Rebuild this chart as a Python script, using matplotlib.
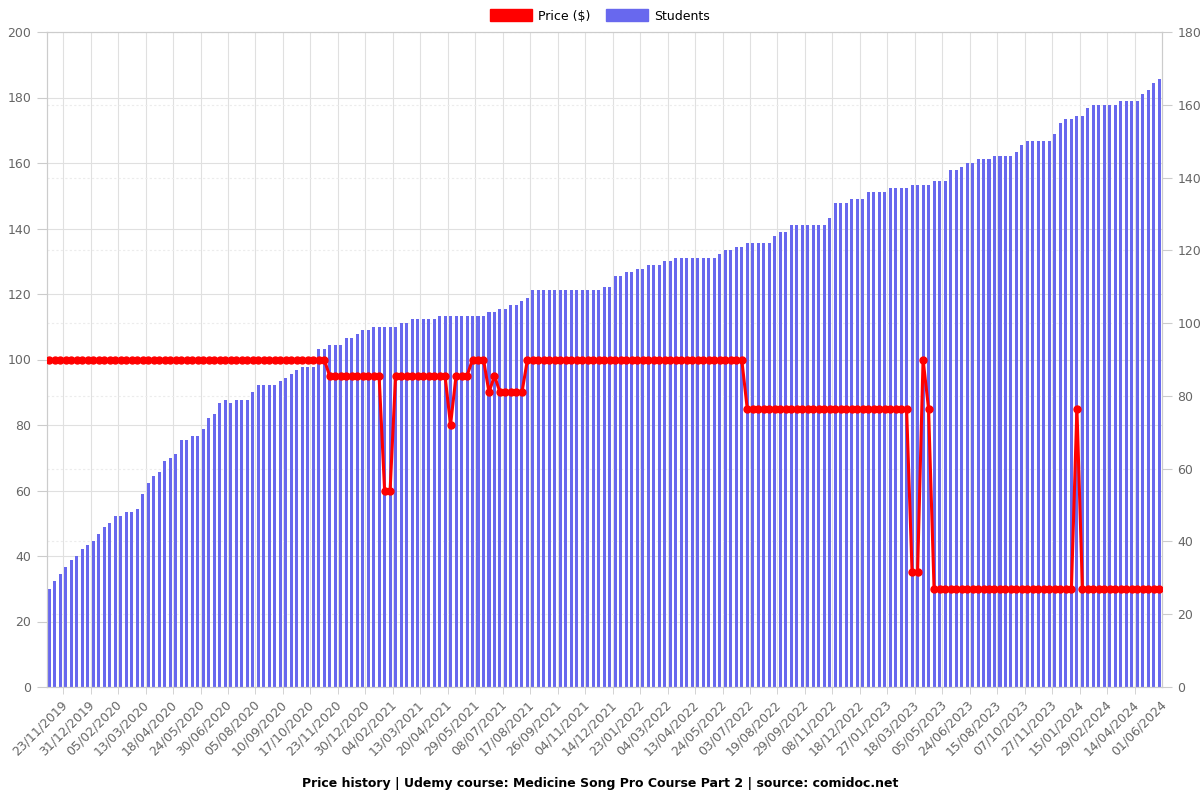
import matplotlib
matplotlib.use('Agg')
import matplotlib.pyplot as plt
import numpy as np
from matplotlib.patches import Patch

# Students per snapshot (right axis)
students = [
    27, 29, 31, 33, 35, 36, 38, 39, 40, 42, 44, 45, 47, 47, 48, 48, 49, 53, 56,
    58, 59, 62, 63, 64, 68, 68, 69, 69, 71, 74, 75, 78, 79, 78, 79, 79, 79, 81, 83, 83, 83, 83, 84,
    85, 86, 87,
    88, 88, 88, 93, 93, 94, 94, 94, 96, 96, 97,
    98, 98, 99, 99, 99, 99, 99, 100, 100, 101, 101, 101, 101, 101, 102,
    102, 102, 102, 102, 102, 102, 102, 102, 103, 103, 104, 104, 105, 105, 106, 107,
    109, 109, 109, 109, 109, 109, 109, 109, 109, 109, 109, 109, 109, 110, 110, 113, 113,
    114, 114, 115, 115, 116, 116, 116, 117, 117, 118, 118, 118, 118, 118, 118, 118, 118,
    119, 120, 120, 121, 121, 122, 122, 122, 122, 122, 124, 125, 125,
    127, 127, 127, 127, 127, 127, 127, 129, 133, 133, 133, 134, 134, 134, 136, 136, 136, 136,
    137, 137, 137, 137, 138, 138, 138, 138, 139, 139, 139, 142, 142, 143, 144, 144, 145, 145,
    145, 146, 146, 146, 146, 147,
    149, 150, 150, 150, 150, 150, 152, 155, 156, 156, 157, 157, 159, 160, 160, 160, 160, 160,
    161, 161, 161, 161, 163, 164, 166, 167,
]

# Price in $ (left axis)
price = [
    100, 100, 100, 100, 100, 100, 100, 100, 100, 100, 100, 100, 100, 100, 100, 100, 100,
    100, 100, 100, 100, 100, 100, 100, 100, 100, 100, 100, 100, 100, 100, 100, 100, 100,
    100, 100, 100, 100, 100, 100, 100, 100, 100, 100, 100, 100, 100, 100, 100, 100, 100,
    95, 95, 95, 95, 95, 95, 95, 95, 95, 95, 60, 60,
    95, 95, 95, 95, 95, 95, 95, 95, 95, 95, 80, 95, 95, 95, 100, 100, 100,
    90, 95, 90, 90, 90, 90, 90,
    100, 100, 100, 100, 100, 100, 100, 100, 100, 100, 100, 100, 100, 100, 100, 100, 100, 100, 100, 100,
    100, 100, 100, 100, 100, 100, 100, 100, 100, 100, 100, 100, 100, 100, 100, 100, 100, 100, 100, 100,
    85, 85, 85, 85, 85, 85, 85, 85, 85, 85, 85, 85, 85, 85, 85,
    85, 85, 85, 85, 85, 85, 85, 85, 85, 85, 85, 85, 85, 85, 85,
    35, 35, 100, 85,
    30, 30, 30, 30, 30, 30, 30, 30, 30, 30, 30, 30, 30, 30, 30, 30, 30, 30, 30, 30, 30, 30, 30, 30, 30, 30,
    85,
    30, 30, 30, 30, 30, 30, 30, 30, 30, 30, 30, 30, 30, 30, 30,
]

# every 5th snapshot is labelled, starting at the third one
tick_labels = [
    '23/11/2019', '31/12/2019', '05/02/2020', '13/03/2020', '18/04/2020', '24/05/2020',
    '30/06/2020', '05/08/2020', '10/09/2020', '17/10/2020', '23/11/2020', '30/12/2020',
    '04/02/2021', '13/03/2021', '20/04/2021', '29/05/2021', '08/07/2021', '17/08/2021',
    '26/09/2021', '04/11/2021', '14/12/2021', '23/01/2022', '04/03/2022', '13/04/2022',
    '24/05/2022', '03/07/2022', '19/08/2022', '29/09/2022', '08/11/2022', '18/12/2022',
    '27/01/2023', '18/03/2023', '05/05/2023', '24/06/2023', '15/08/2023', '07/10/2023',
    '27/11/2023', '15/01/2024', '29/02/2024', '14/04/2024', '01/06/2024',
]

n = len(students)
x = np.arange(n)
label_pos = np.arange(2, n, 5)
grid_pos = label_pos[:-1] + 0.5

bar_color = '#6868ee'
grid_color = '#e0e0e0'
text_color = '#666666'

fig = plt.figure(figsize=(12, 8), dpi=100)
ax = fig.add_axes([0.0389, 0.14125, 0.9295, 0.81875])

ax.bar(x, students, width=0.55, color=bar_color, zorder=2)
ax.set_xlim(-0.5, n - 0.5)
ax.set_ylim(0, 180)
ax.set_yticks(range(0, 181, 20))

# grid lines under the bars
ax.set_axisbelow(True)
ax.yaxis.grid(True, color='#ececec', linestyle=(0, (2, 2)), linewidth=0.8)
for v in range(20, 200, 20):
    ax.axhline(v * 180 / 200, color=grid_color, linewidth=0.8, zorder=1)
ax.set_xticks(label_pos)
ax.set_xticklabels(tick_labels, rotation=45, ha='right', rotation_mode='anchor',
                   fontsize=9, color=text_color)
ax.set_xticks(grid_pos, minor=True)
ax.xaxis.grid(True, which='minor', color=grid_color, linewidth=0.8)
ax.tick_params(axis='x', which='major', length=0, pad=8)
ax.tick_params(axis='x', which='minor', length=5, color='#cccccc')

ax2 = ax.twinx()
ax2.plot(x, price, color='red', linewidth=2.2, marker='o', markersize=5, zorder=3)
ax2.set_ylim(0, 200)
ax2.set_yticks(range(0, 201, 20))

ax.yaxis.tick_right()
ax2.yaxis.tick_left()
for a in (ax, ax2):
    a.tick_params(axis='y', length=7, color='#cccccc', labelsize=9, labelcolor=text_color, pad=4)
    for s in a.spines.values():
        s.set_color('#cccccc')

handles = [Patch(facecolor='red', edgecolor='red', label='Price ($)'),
           Patch(facecolor=bar_color, edgecolor=bar_color, label='Students')]
fig.legend(handles=handles, loc='center', bbox_to_anchor=(0.5, 1 - 16 / 800), ncol=2,
           frameon=False, fontsize=9, handlelength=3.4, handleheight=1.1,
           columnspacing=1.2, handletextpad=0.5)

fig.text(0.5, 1 - 783 / 800,
         'Price history | Udemy course: Medicine Song Pro Course Part 2 | source: comidoc.net',
         ha='center', va='center', fontsize=9, fontweight='bold')

fig.savefig('out.png', dpi=100)
